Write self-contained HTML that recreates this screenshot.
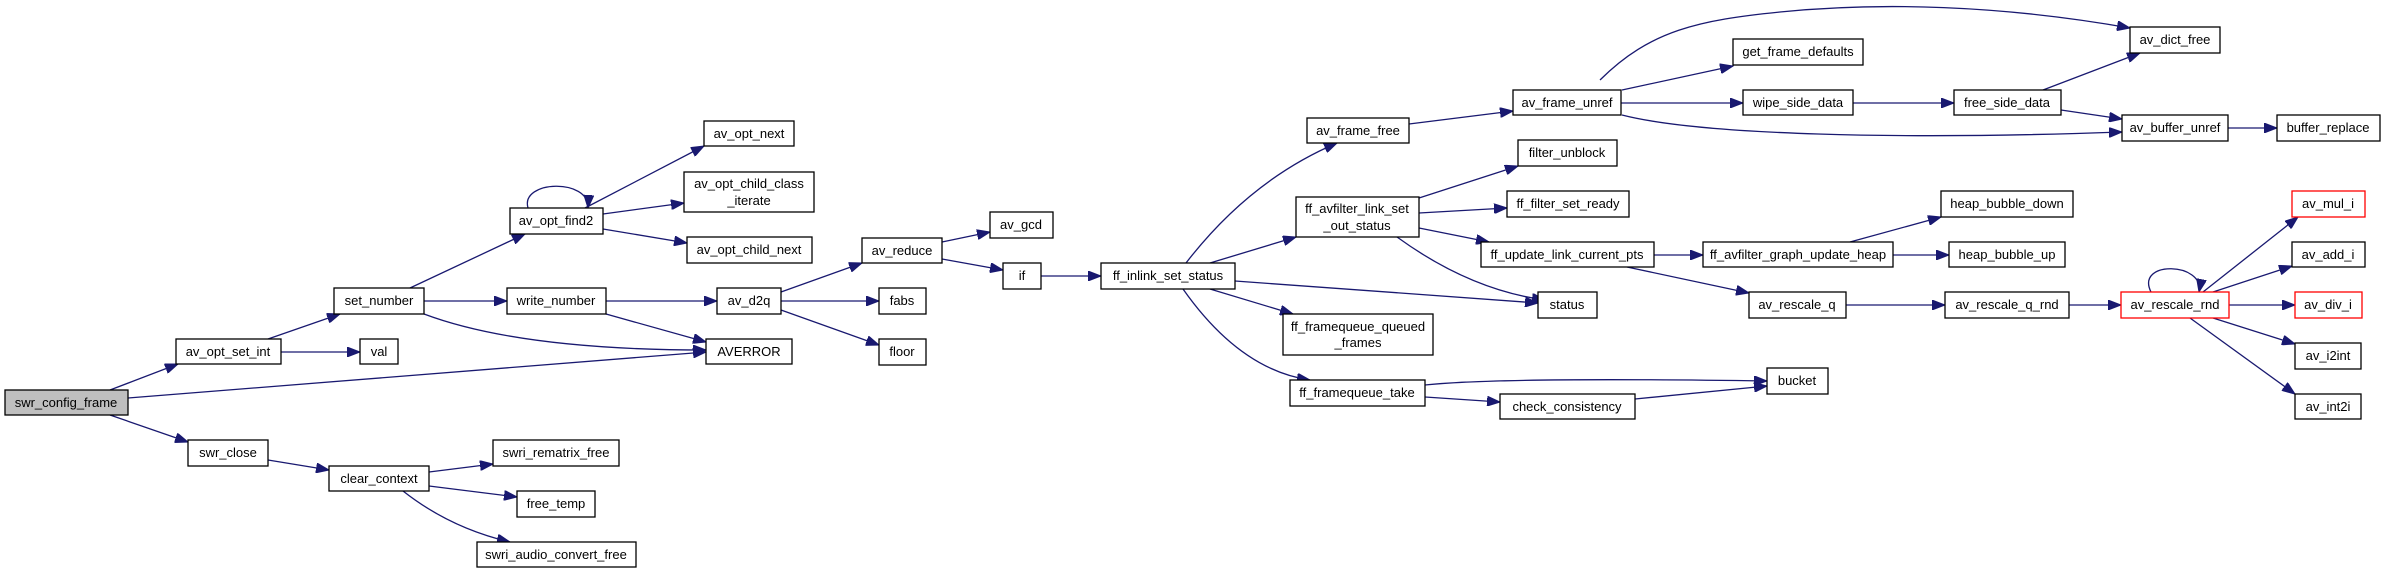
<!DOCTYPE html>
<html><head><meta charset="utf-8"><style>
html,body{margin:0;padding:0;background:#fff;}
svg{display:block;}
text{font-family:"Liberation Sans",sans-serif;font-size:13px;fill:#000;text-anchor:middle;}
rect{fill:#fff;stroke:#000;stroke-width:1.3;}
rect.r{stroke:#ff0000;}
path,line{stroke:#191970;stroke-width:1.3;fill:none;}
</style></head><body>
<svg width="2385" height="573" viewBox="0 0 2385 573" xmlns="http://www.w3.org/2000/svg">
<defs><marker id="a" markerUnits="userSpaceOnUse" markerWidth="14" markerHeight="10" refX="13" refY="5" orient="auto"><path d="M0,0 L13,5 L0,10 Z" style="fill:#191970;stroke:#191970;stroke-width:1"/></marker></defs>
<g marker-end="url(#a)">
<line x1="110" y1="390" x2="178" y2="364"/>
<line x1="128" y1="398" x2="706" y2="352"/>
<line x1="110" y1="415" x2="188" y2="442"/>
<line x1="268" y1="460" x2="329" y2="470"/>
<line x1="429" y1="472" x2="493" y2="464"/>
<line x1="429" y1="486" x2="517" y2="497"/>
<path d="M403,491 Q450,528 510,542"/>
<line x1="268" y1="339" x2="340" y2="314"/>
<line x1="281" y1="352" x2="360" y2="352"/>
<line x1="410" y1="288" x2="525" y2="234"/>
<line x1="424" y1="301" x2="507" y2="301"/>
<path d="M424,314 Q520,350 706,350"/>
<path d="M528,208 C520,180 590,178 588,208"/>
<line x1="585" y1="208" x2="704" y2="146"/>
<line x1="603" y1="214" x2="684" y2="203"/>
<line x1="603" y1="229" x2="687" y2="243"/>
<line x1="606" y1="301" x2="717" y2="301"/>
<line x1="606" y1="314" x2="706" y2="342"/>
<line x1="781" y1="292" x2="862" y2="263"/>
<line x1="781" y1="301" x2="879" y2="301"/>
<line x1="781" y1="310" x2="879" y2="345"/>
<line x1="942" y1="242" x2="990" y2="232"/>
<line x1="942" y1="259" x2="1003" y2="270"/>
<line x1="1041" y1="276" x2="1101" y2="276"/>
<path d="M1186,263 Q1250,180 1337,143"/>
<line x1="1210" y1="263" x2="1296" y2="237"/>
<line x1="1235" y1="281" x2="1538" y2="303"/>
<line x1="1210" y1="289" x2="1293" y2="314"/>
<path d="M1183,289 Q1240,370 1310,380"/>
<line x1="1409" y1="124" x2="1513" y2="111"/>
<line x1="1419" y1="198" x2="1518" y2="166"/>
<line x1="1419" y1="213" x2="1507" y2="208"/>
<line x1="1419" y1="228" x2="1489" y2="242"/>
<path d="M1397,237 Q1470,290 1545,300"/>
<path d="M1425,385 Q1500,377 1767,381"/>
<line x1="1425" y1="397" x2="1500" y2="402"/>
<line x1="1635" y1="399" x2="1767" y2="386"/>
<line x1="1654" y1="255" x2="1703" y2="255"/>
<line x1="1627" y1="267" x2="1749" y2="293"/>
<line x1="1850" y1="242" x2="1941" y2="217"/>
<line x1="1893" y1="255" x2="1949" y2="255"/>
<line x1="1846" y1="305" x2="1945" y2="305"/>
<line x1="2069" y1="305" x2="2121" y2="305"/>
<path d="M2151,292 C2135,260 2205,262 2199,292"/>
<line x1="2203" y1="292" x2="2298" y2="217"/>
<line x1="2213" y1="292" x2="2292" y2="266"/>
<line x1="2229" y1="305" x2="2295" y2="305"/>
<line x1="2213" y1="318" x2="2295" y2="344"/>
<line x1="2190" y1="318" x2="2295" y2="394"/>
<path d="M1600,80 C1650,30 1700,20 1780,12 C1880,2 2000,5 2130,28"/>
<line x1="1622" y1="90" x2="1733" y2="66"/>
<line x1="1621" y1="103" x2="1743" y2="103"/>
<path d="M1622,115 C1700,135 1900,140 2122,132"/>
<line x1="1853" y1="103" x2="1954" y2="103"/>
<line x1="2043" y1="90" x2="2140" y2="53"/>
<line x1="2061" y1="110" x2="2122" y2="119"/>
<line x1="2228" y1="128" x2="2277" y2="128"/>
</g>
<rect x="5" y="390" width="123" height="25" style="fill:#bfbfbf"/><text x="66" y="407">swr_config_frame</text>
<rect x="176" y="339" width="105" height="25"/><text x="228" y="356">av_opt_set_int</text>
<rect x="360" y="339" width="38" height="25"/><text x="379" y="356">val</text>
<rect x="334" y="288" width="90" height="26"/><text x="379" y="305">set_number</text>
<rect x="510" y="208" width="93" height="26"/><text x="556" y="225">av_opt_find2</text>
<rect x="704" y="121" width="90" height="25"/><text x="749" y="138">av_opt_next</text>
<rect x="684" y="172" width="130" height="40"/><text x="749" y="188">av_opt_child_class</text><text x="749" y="205">_iterate</text>
<rect x="687" y="237" width="125" height="26"/><text x="749" y="254">av_opt_child_next</text>
<rect x="507" y="288" width="99" height="26"/><text x="556" y="305">write_number</text>
<rect x="717" y="288" width="64" height="26"/><text x="749" y="305">av_d2q</text>
<rect x="706" y="339" width="86" height="25"/><text x="749" y="356">AVERROR</text>
<rect x="188" y="440" width="80" height="26"/><text x="228" y="457">swr_close</text>
<rect x="329" y="466" width="100" height="25"/><text x="379" y="483">clear_context</text>
<rect x="493" y="440" width="126" height="26"/><text x="556" y="457">swri_rematrix_free</text>
<rect x="517" y="491" width="78" height="26"/><text x="556" y="508">free_temp</text>
<rect x="477" y="542" width="159" height="25"/><text x="556" y="559">swri_audio_convert_free</text>
<rect x="862" y="238" width="80" height="25"/><text x="902" y="255">av_reduce</text>
<rect x="990" y="212" width="63" height="26"/><text x="1021" y="229">av_gcd</text>
<rect x="1003" y="263" width="38" height="26"/><text x="1022" y="280">if</text>
<rect x="879" y="288" width="47" height="26"/><text x="902" y="305">fabs</text>
<rect x="879" y="339" width="47" height="26"/><text x="902" y="356">floor</text>
<rect x="1101" y="263" width="134" height="26"/><text x="1168" y="280">ff_inlink_set_status</text>
<rect x="1307" y="118" width="102" height="25"/><text x="1358" y="135">av_frame_free</text>
<rect x="1296" y="197" width="123" height="40"/><text x="1357" y="213">ff_avfilter_link_set</text><text x="1357" y="230">_out_status</text>
<rect x="1283" y="314" width="150" height="41"/><text x="1358" y="331">ff_framequeue_queued</text><text x="1358" y="347">_frames</text>
<rect x="1290" y="380" width="135" height="26"/><text x="1357" y="397">ff_framequeue_take</text>
<rect x="1513" y="90" width="108" height="25"/><text x="1567" y="107">av_frame_unref</text>
<rect x="1518" y="140" width="99" height="26"/><text x="1567" y="157">filter_unblock</text>
<rect x="1507" y="191" width="122" height="26"/><text x="1568" y="208">ff_filter_set_ready</text>
<rect x="1481" y="242" width="173" height="25"/><text x="1567" y="259">ff_update_link_current_pts</text>
<rect x="1538" y="292" width="59" height="26"/><text x="1567" y="309">status</text>
<rect x="1500" y="394" width="135" height="25"/><text x="1567" y="411">check_consistency</text>
<rect x="1733" y="39" width="130" height="26"/><text x="1798" y="56">get_frame_defaults</text>
<rect x="2130" y="27" width="90" height="26"/><text x="2175" y="44">av_dict_free</text>
<rect x="1743" y="90" width="110" height="25"/><text x="1798" y="107">wipe_side_data</text>
<rect x="1954" y="90" width="107" height="25"/><text x="2007" y="107">free_side_data</text>
<rect x="2122" y="115" width="106" height="26"/><text x="2175" y="132">av_buffer_unref</text>
<rect x="2277" y="115" width="103" height="26"/><text x="2328" y="132">buffer_replace</text>
<rect x="1941" y="191" width="132" height="26"/><text x="2007" y="208">heap_bubble_down</text>
<rect x="1703" y="242" width="190" height="25"/><text x="1798" y="259">ff_avfilter_graph_update_heap</text>
<rect x="1949" y="242" width="116" height="25"/><text x="2007" y="259">heap_bubble_up</text>
<rect x="1749" y="292" width="97" height="26"/><text x="1797" y="309">av_rescale_q</text>
<rect x="1945" y="292" width="124" height="26"/><text x="2007" y="309">av_rescale_q_rnd</text>
<rect class="r" x="2121" y="292" width="108" height="26"/><text x="2175" y="309">av_rescale_rnd</text>
<rect class="r" x="2292" y="191" width="73" height="26"/><text x="2328" y="208">av_mul_i</text>
<rect x="2292" y="242" width="73" height="25"/><text x="2328" y="259">av_add_i</text>
<rect class="r" x="2295" y="292" width="67" height="26"/><text x="2328" y="309">av_div_i</text>
<rect x="2295" y="343" width="66" height="26"/><text x="2328" y="360">av_i2int</text>
<rect x="2295" y="394" width="66" height="25"/><text x="2328" y="411">av_int2i</text>
<rect x="1767" y="368" width="61" height="26"/><text x="1797" y="385">bucket</text>
</svg>
</body></html>
